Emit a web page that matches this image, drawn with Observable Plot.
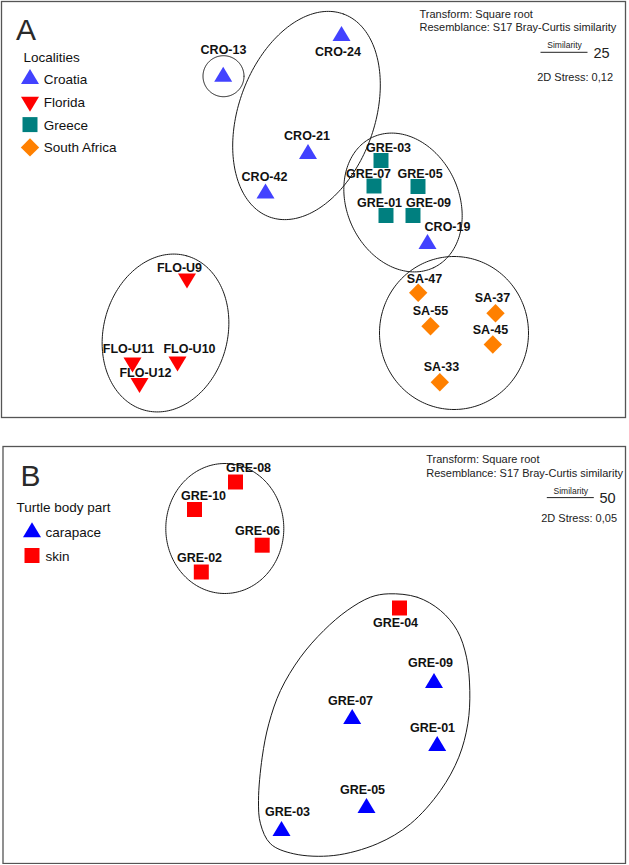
<!DOCTYPE html>
<html><head><meta charset="utf-8">
<script src="https://cdn.jsdelivr.net/npm/d3@7"></script>
<script src="https://cdn.jsdelivr.net/npm/@observablehq/plot@0.6"></script>
<style>
body{margin:0;background:#fff;}
#chart > div, #chart svg{display:block;}
</style></head><body><div id="chart"></div>
<script>
// ================= Panel A : Localities (nMDS coordinates) =================
const localities = ["Croatia", "Florida", "Greece", "South Africa"];
const localityColors = ["#4242ff", "#ff0000", "#007f7f", "#ff8000"];
const samplesA = ["CRO-13","CRO-24","CRO-21","CRO-42","CRO-19","GRE-03","GRE-07","GRE-05","GRE-01","GRE-09","FLO-U9","FLO-U11","FLO-U10","FLO-U12","SA-47","SA-37","SA-55","SA-45","SA-33"];
const groupA = ["Croatia","Croatia","Croatia","Croatia","Croatia","Greece","Greece","Greece","Greece","Greece","Florida","Florida","Florida","Florida","South Africa","South Africa","South Africa","South Africa","South Africa"];
const xA = [-0.913, 0.27, -0.065, -0.49, 1.13, 0.665, 0.595, 1.035, 0.715, 0.985, -1.275, -1.82, -1.37, -1.75, 1.037, 1.81, 1.16, 1.783, 1.253];
const yA = [1.398, 1.805, 0.625, 0.23, -0.275, 0.56, 0.305, 0.30, 0.01, 0.01, -0.62, -1.46, -1.45, -1.665, -0.763, -0.967, -1.097, -1.28, -1.657];
const labelXA = [-0.91, 0.235, -0.075, -0.50, 1.33, 0.74, 0.54, 1.057, 0.65, 1.14, -1.35, -1.86, -1.25, -1.69, 1.10, 1.78, 1.16, 1.76, 1.27];
const labelYA = [1.63, 1.61, 0.77, 0.36, -0.14, 0.65, 0.385, 0.385, 0.095, 0.095, -0.557, -1.367, -1.367, -1.607, -0.667, -0.857, -0.98, -1.17, -1.547];
// similarity contours (25 %) as ellipses: centre, semi-axes, rotation (deg)
const contourCxA = [-0.91, -0.08, 0.885, -1.49, 1.395];
const contourCyA = [1.403, 1.01, 0.14, -1.165, -1.165];
const contourSemiAA = [0.205, 1.08, 0.72, 0.80, 0.765];
const contourSemiBA = [0.205, 0.68, 0.56, 0.62, 0.745];
const contourAngleA = [0, 70, -65, 75, 90];
const infoA = ["Transform: Square root", "Resemblance: S17 Bray-Curtis similarity"];
const similarityA = "25";
const stressA = "2D Stress: 0,12";

// ================= Panel B : Turtle body part =================
const bodyParts = ["carapace", "skin"];
const bodyPartColors = ["#0000ff", "#ff0000"];
const samplesB = ["GRE-08","GRE-10","GRE-06","GRE-02","GRE-04","GRE-09","GRE-07","GRE-01","GRE-05","GRE-03"];
const groupB = ["skin","skin","skin","skin","skin","carapace","carapace","carapace","carapace","carapace"];
const xB = [-0.79, -1.20, -0.523, -1.132, 0.85, 1.195, 0.377, 1.227, 0.52, -0.33];
const yB = [1.665, 1.39, 1.033, 0.765, 0.405, -0.345, -0.705, -0.975, -1.595, -1.825];
const labelXB = [-0.66, -1.11, -0.57, -1.15, 0.81, 1.16, 0.36, 1.18, 0.48, -0.27];
const labelYB = [1.763, 1.49, 1.14, 0.87, 0.213, -0.187, -0.563, -0.837, -1.453, -1.67];
// 50 % contour around the skin samples (ellipse)
const contourCxB = [-0.897];
const contourCyB = [1.20];
const contourSemiAB = [0.65];
const contourSemiBB = [0.59];
const contourAngleB = [90];
// 50 % contour around GRE-04 + carapace samples (traced outline, clockwise)
const outlineXB = [0.743, 1.027, 1.26, 1.427, 1.52, 1.553, 1.533, 1.443, 1.26, 0.96, 0.627, 0.193, -0.207, -0.44, -0.54, -0.56, -0.523, -0.457, -0.34, -0.14, 0.093, 0.327, 0.56];
const outlineYB = [0.547, 0.513, 0.38, 0.18, -0.087, -0.42, -0.753, -1.087, -1.42, -1.753, -1.953, -2.07, -2.053, -1.953, -1.753, -1.52, -1.087, -0.753, -0.42, -0.087, 0.18, 0.38, 0.513];
const infoB = ["Transform: Square root", "Resemblance: S17 Bray-Curtis similarity"];
const similarityB = "50";
const stressB = "2D Stress: 0,05";

// ================= helpers =================
const FONT = "'Liberation Sans', Arial, Helvetica, sans-serif";
const W = 629, H = 432;

function sym(fn) { return {draw(ctx, size) { fn(ctx, Math.sqrt(size / Math.PI)); }}; }
const triUp = sym((c, r) => { c.moveTo(0, -1.111 * r); c.lineTo(r, 0.556 * r); c.lineTo(-r, 0.556 * r); c.closePath(); });
const triDown = sym((c, r) => { c.moveTo(0, 1.111 * r); c.lineTo(r, -0.556 * r); c.lineTo(-r, -0.556 * r); c.closePath(); });
const square = sym((c, r) => { const h = 0.833 * r; c.rect(-h, -h, 2 * h, 2 * h); });
const diamond = sym((c, r) => { const h = 1.02 * r; c.moveTo(0, -h); c.lineTo(h, 0); c.lineTo(0, h); c.lineTo(-h, 0); c.closePath(); });

function ellipsePts(id, cx, cy, a, b, deg) {
  const t = deg * Math.PI / 180, pts = [];
  for (let k = 0; k <= 200; k++) {
    const u = 2 * Math.PI * k / 200;
    const ex = a * Math.cos(u), ey = b * Math.sin(u);
    pts.push({id, x: cx + ex * Math.cos(t) - ey * Math.sin(t), y: cy + ex * Math.sin(t) + ey * Math.cos(t)});
  }
  return pts;
}

function panel(cfg) {
  const samples = cfg.names.map((name, i) => ({name, group: cfg.groups[i], x: cfg.xs[i], y: cfg.ys[i], lx: cfg.lxs[i], ly: cfg.lys[i]}));
  const contours = cfg.ccx.flatMap((cx, i) => ellipsePts(i, cx, cfg.ccy[i], cfg.ca[i], cfg.cb[i], cfg.cang[i]));
  const outline = cfg.outline ? cfg.outline.xs.map((x, i) => ({x, y: cfg.outline.ys[i]})) : [];
  const m = cfg.margins;
  const txt = (s, o) => Plot.text([s], {text: d => d, frameAnchor: "top-left", textAnchor: "start", lineAnchor: "bottom", fill: "#222", fontFamily: FONT, ...o});
  const legendMarks = cfg.legendDomain.flatMap((cat, i) => [
    Plot.dot([cat], {frameAnchor: "top-left", dx: cfg.legend.sx, dy: cfg.legend.y0 + i * cfg.legend.step - 5, symbol: d => d, fill: d => d, r: 9}),
    txt(cat, {dx: cfg.legend.tx, dy: cfg.legend.y0 + i * cfg.legend.step, fontSize: 13.5, fill: "#111"})
  ]);
  const chart = Plot.plot({
    width: W, height: H,
    marginTop: m[0], marginRight: m[1], marginBottom: m[2], marginLeft: m[3],
    x: {domain: [-3.14, 3.15], range: [0, W], axis: null},
    y: {domain: [-2.16, 2.16], range: [H, 0], axis: null},
    symbol: {domain: cfg.legendDomain, range: cfg.symbols},
    color: {domain: cfg.legendDomain, range: cfg.colors},
    style: {fontFamily: FONT, background: "white", overflow: "visible"},
    marks: [
      Plot.frame({stroke: "#555", strokeWidth: 1.3}),
      Plot.line(contours, {x: "x", y: "y", z: "id", stroke: "#1a1a1a", strokeWidth: 1}),
      outline.length ? Plot.line(outline, {x: "x", y: "y", curve: "catmull-rom-closed", stroke: "#1a1a1a", strokeWidth: 1}) : null,
      Plot.dot(samples, {x: "x", y: "y", symbol: "group", fill: "group", r: 9}),
      Plot.text(samples, {x: "lx", y: "ly", text: "name", lineAnchor: "bottom", fontWeight: "bold", fontSize: 12.5, fill: "#111", fontFamily: FONT}),
      txt(cfg.letter, {dx: cfg.letterPos[0], dy: cfg.letterPos[1], fontSize: 30, fill: "#2a2a2a"}),
      txt(cfg.legendTitle, {dx: cfg.legend.titleX, dy: cfg.legend.titleY, fontSize: 13.5, fill: "#111"}),
      ...legendMarks,
      txt(cfg.info[0], {dx: cfg.infoX, dy: cfg.infoY, fontSize: 11}),
      txt(cfg.info[1], {dx: cfg.infoX, dy: cfg.infoY + 13.5, fontSize: 11}),
      Plot.text(["Similarity"], {text: d => d, frameAnchor: "top-left", textAnchor: "middle", lineAnchor: "bottom", dx: cfg.sim.cx, dy: cfg.sim.y, fontSize: 8.5, fill: "#222", fontFamily: FONT}),
      txt(cfg.simValue, {dx: cfg.sim.vx, dy: cfg.sim.y + 9.5, fontSize: 14.5}),
      txt(cfg.stress, {dx: cfg.stressPos[0], dy: cfg.stressPos[1], fontSize: 11})
    ]
  });
  const svg = d3.select(chart);
  svg.append("line")
    .attr("x1", m[3] + cfg.sim.cx - 23.5).attr("x2", m[3] + cfg.sim.cx + 23.5)
    .attr("y1", m[0] + cfg.sim.y + 4.6).attr("y2", m[0] + cfg.sim.y + 4.6)
    .attr("stroke", "#222").attr("stroke-width", 1);
  return chart;
}

const root = document.getElementById("chart");
root.append(panel({
  names: samplesA, groups: groupA, xs: xA, ys: yA, lxs: labelXA, lys: labelYA,
  ccx: contourCxA, ccy: contourCyA, ca: contourSemiAA, cb: contourSemiBA, cang: contourAngleA,
  legendDomain: localities, colors: localityColors, symbols: [triUp, triDown, square, diamond],
  margins: [1, 4, 15, 1],
  letter: "A", letterPos: [14.5, 38],
  legendTitle: "Localities",
  legend: {titleX: 22, titleY: 60.5, sx: 28.5, tx: 42.3, y0: 82.5, step: 22.8},
  info: infoA, infoX: 418, infoY: 16.3,
  sim: {cx: 563, y: 46.7, vx: 592}, simValue: similarityA,
  stress: stressA, stressPos: [535.7, 79]
}));
root.append(panel({
  names: samplesB, groups: groupB, xs: xB, ys: yB, lxs: labelXB, lys: labelYB,
  ccx: contourCxB, ccy: contourCyB, ca: contourSemiAB, cb: contourSemiBB, cang: contourAngleB,
  outline: {xs: outlineXB, ys: outlineYB},
  legendDomain: bodyParts, colors: bodyPartColors, symbols: [triUp, square],
  margins: [14, 4, 1, 2.5],
  letter: "B", letterPos: [17.5, 39],
  legendTitle: "Turtle body part",
  legend: {titleX: 13.5, titleY: 65.7, sx: 29, tx: 42.5, y0: 90.7, step: 23.3},
  info: infoB, infoX: 423.2, infoY: 16.7,
  sim: {cx: 567.8, y: 47, vx: 596.5}, simValue: similarityB,
  stress: stressB, stressPos: [538.2, 75.7]
}));
</script></body></html>
